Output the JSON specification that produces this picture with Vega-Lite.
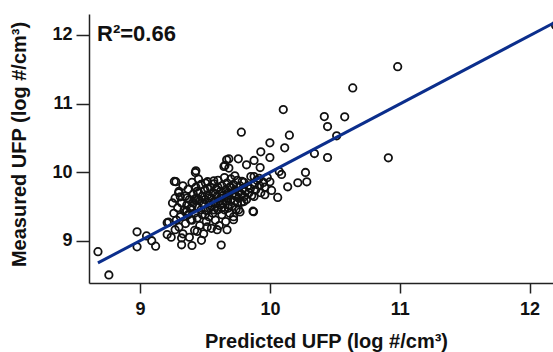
{
  "$schema": "https://vega.github.io/schema/vega-lite/v6.json",
  "width": 464,
  "height": 269,
  "autosize": {"type": "none"},
  "padding": {"left": 89, "top": 14, "right": 0, "bottom": 69},
  "background": "white",
  "config": {
    "view": {"stroke": null},
    "font": "Liberation Sans",
    "axis": {
      "grid": false,
      "domainColor": "#222222",
      "domainWidth": 1.5,
      "tickColor": "#222222",
      "tickWidth": 1.5,
      "labelFont": "Liberation Sans",
      "labelFontWeight": "bold",
      "labelFontSize": 18,
      "labelColor": "#111111",
      "titleFont": "Liberation Sans",
      "titleFontWeight": "bold",
      "titleFontSize": 20,
      "titleColor": "#111111"
    }
  },
  "datasets": {
    "points": [
      {"p": 8.676, "m": 8.84}, {"p": 8.76, "m": 8.5}, {"p": 8.977, "m": 9.13}, {"p": 8.977, "m": 8.91},
      {"p": 9.05, "m": 9.07}, {"p": 9.09, "m": 9.0}, {"p": 9.12, "m": 8.92}, {"p": 9.209, "m": 9.262},
      {"p": 9.209, "m": 9.09}, {"p": 9.22, "m": 9.27}, {"p": 9.24, "m": 9.05}, {"p": 9.27, "m": 9.16},
      {"p": 9.32, "m": 8.94}, {"p": 9.40, "m": 8.93}, {"p": 9.473, "m": 9.005}, {"p": 9.625, "m": 8.937},
      {"p": 9.87, "m": 9.43}, {"p": 9.426, "m": 9.995}, {"p": 9.43, "m": 10.02}, {"p": 9.276, "m": 9.86},
      {"p": 9.297, "m": 9.70}, {"p": 9.31, "m": 9.64}, {"p": 9.36, "m": 9.43}, {"p": 9.39, "m": 9.306},
      {"p": 9.44, "m": 9.136}, {"p": 9.32, "m": 9.04}, {"p": 9.517, "m": 9.2}, {"p": 9.594, "m": 9.16},
      {"p": 9.67, "m": 9.16}, {"p": 9.72, "m": 9.306}, {"p": 9.68, "m": 9.476}, {"p": 9.76, "m": 9.45},
      {"p": 9.80, "m": 9.57}, {"p": 9.264, "m": 9.864}, {"p": 9.568, "m": 9.874}, {"p": 9.504, "m": 9.84},
      {"p": 9.667, "m": 10.18}, {"p": 9.646, "m": 10.082}, {"p": 9.654, "m": 10.097}, {"p": 9.684, "m": 10.194},
      {"p": 9.684, "m": 10.059}, {"p": 9.73, "m": 9.947}, {"p": 9.757, "m": 10.194}, {"p": 9.78, "m": 10.583},
      {"p": 9.786, "m": 9.864}, {"p": 9.82, "m": 10.107}, {"p": 9.853, "m": 9.936}, {"p": 9.874, "m": 9.422},
      {"p": 9.878, "m": 10.17}, {"p": 9.878, "m": 9.645}, {"p": 9.878, "m": 9.936}, {"p": 9.917, "m": 9.91},
      {"p": 9.925, "m": 10.067}, {"p": 9.93, "m": 10.296}, {"p": 9.961, "m": 9.67}, {"p": 10.0, "m": 10.427},
      {"p": 10.0, "m": 10.213}, {"p": 10.0, "m": 9.859}, {"p": 10.013, "m": 9.733}, {"p": 10.06, "m": 9.631},
      {"p": 10.072, "m": 10.01}, {"p": 10.09, "m": 9.966}, {"p": 10.103, "m": 10.912}, {"p": 10.114, "m": 10.354},
      {"p": 10.137, "m": 9.786}, {"p": 10.15, "m": 10.539}, {"p": 10.215, "m": 9.845}, {"p": 10.274, "m": 9.995},
      {"p": 10.284, "m": 9.859}, {"p": 10.343, "m": 10.271}, {"p": 10.419, "m": 10.81}, {"p": 10.444, "m": 10.665},
      {"p": 10.444, "m": 10.213}, {"p": 10.514, "m": 10.529}, {"p": 10.576, "m": 10.806}, {"p": 10.638, "m": 11.228},
      {"p": 10.912, "m": 10.209}, {"p": 10.984, "m": 11.538}, {"p": 12.2, "m": 12.14},
      {"p": 9.25, "m": 9.55}, {"p": 9.26, "m": 9.40}, {"p": 9.27, "m": 9.62}, {"p": 9.28, "m": 9.30},
      {"p": 9.29, "m": 9.48}, {"p": 9.30, "m": 9.72}, {"p": 9.30, "m": 9.20}, {"p": 9.31, "m": 9.35},
      {"p": 9.32, "m": 9.55}, {"p": 9.33, "m": 9.80}, {"p": 9.33, "m": 9.10}, {"p": 9.34, "m": 9.45},
      {"p": 9.35, "m": 9.65}, {"p": 9.35, "m": 9.25}, {"p": 9.36, "m": 9.52}, {"p": 9.37, "m": 9.75},
      {"p": 9.37, "m": 9.38}, {"p": 9.38, "m": 9.60}, {"p": 9.38, "m": 9.05}, {"p": 9.39, "m": 9.47},
      {"p": 9.40, "m": 9.85}, {"p": 9.40, "m": 9.30}, {"p": 9.41, "m": 9.68}, {"p": 9.41, "m": 9.55},
      {"p": 9.42, "m": 9.40}, {"p": 9.42, "m": 9.15}, {"p": 9.43, "m": 9.78}, {"p": 9.43, "m": 9.62},
      {"p": 9.44, "m": 9.50}, {"p": 9.44, "m": 9.33}, {"p": 9.45, "m": 9.90}, {"p": 9.45, "m": 9.70},
      {"p": 9.46, "m": 9.58}, {"p": 9.46, "m": 9.22}, {"p": 9.47, "m": 9.45}, {"p": 9.47, "m": 9.82},
      {"p": 9.48, "m": 9.65}, {"p": 9.48, "m": 9.38}, {"p": 9.49, "m": 9.53}, {"p": 9.49, "m": 9.10},
      {"p": 9.50, "m": 9.74}, {"p": 9.50, "m": 9.60}, {"p": 9.51, "m": 9.44}, {"p": 9.51, "m": 9.28},
      {"p": 9.52, "m": 9.86}, {"p": 9.52, "m": 9.67}, {"p": 9.53, "m": 9.55}, {"p": 9.53, "m": 9.35},
      {"p": 9.54, "m": 9.78}, {"p": 9.54, "m": 9.48}, {"p": 9.55, "m": 9.62}, {"p": 9.55, "m": 9.18},
      {"p": 9.56, "m": 9.70}, {"p": 9.56, "m": 9.40}, {"p": 9.57, "m": 9.83}, {"p": 9.57, "m": 9.57},
      {"p": 9.58, "m": 9.50}, {"p": 9.58, "m": 9.30}, {"p": 9.59, "m": 9.75}, {"p": 9.59, "m": 9.64},
      {"p": 9.60, "m": 9.45}, {"p": 9.60, "m": 9.88}, {"p": 9.61, "m": 9.58}, {"p": 9.61, "m": 9.22},
      {"p": 9.62, "m": 9.72}, {"p": 9.62, "m": 9.52}, {"p": 9.63, "m": 9.80}, {"p": 9.63, "m": 9.38},
      {"p": 9.64, "m": 9.66}, {"p": 9.64, "m": 9.55}, {"p": 9.65, "m": 9.92}, {"p": 9.65, "m": 9.45},
      {"p": 9.66, "m": 9.74}, {"p": 9.66, "m": 9.28}, {"p": 9.67, "m": 9.62}, {"p": 9.67, "m": 9.84},
      {"p": 9.68, "m": 9.52}, {"p": 9.68, "m": 9.70}, {"p": 9.69, "m": 9.40}, {"p": 9.69, "m": 9.78},
      {"p": 9.70, "m": 9.60}, {"p": 9.70, "m": 9.90}, {"p": 9.71, "m": 9.50}, {"p": 9.71, "m": 9.68},
      {"p": 9.72, "m": 9.82}, {"p": 9.72, "m": 9.35}, {"p": 9.73, "m": 9.58}, {"p": 9.73, "m": 9.74},
      {"p": 9.74, "m": 9.65}, {"p": 9.74, "m": 9.46}, {"p": 9.75, "m": 9.88}, {"p": 9.75, "m": 9.55},
      {"p": 9.76, "m": 9.72}, {"p": 9.76, "m": 9.62}, {"p": 9.77, "m": 9.80}, {"p": 9.77, "m": 9.42},
      {"p": 9.78, "m": 9.68}, {"p": 9.78, "m": 9.56}, {"p": 9.79, "m": 9.76}, {"p": 9.80, "m": 9.64},
      {"p": 9.80, "m": 9.85}, {"p": 9.81, "m": 9.72}, {"p": 9.82, "m": 9.60}, {"p": 9.83, "m": 9.80},
      {"p": 9.84, "m": 9.70}, {"p": 9.85, "m": 9.76}, {"p": 9.86, "m": 9.66}, {"p": 9.88, "m": 9.82},
      {"p": 9.89, "m": 9.74}, {"p": 9.90, "m": 9.88}, {"p": 9.92, "m": 9.80}, {"p": 9.93, "m": 9.70},
      {"p": 9.95, "m": 9.85}, {"p": 9.96, "m": 9.78}, {"p": 9.98, "m": 9.92},
      {"p": 9.36, "m": 9.62}, {"p": 9.44, "m": 9.72}, {"p": 9.52, "m": 9.76}, {"p": 9.58, "m": 9.68},
      {"p": 9.62, "m": 9.62}, {"p": 9.55, "m": 9.50}, {"p": 9.48, "m": 9.55}, {"p": 9.40, "m": 9.50},
      {"p": 9.66, "m": 9.58}, {"p": 9.70, "m": 9.78}, {"p": 9.50, "m": 9.38}, {"p": 9.57, "m": 9.45},
      {"p": 9.45, "m": 9.60}, {"p": 9.63, "m": 9.48}, {"p": 9.53, "m": 9.62}, {"p": 9.60, "m": 9.78},
      {"p": 9.67, "m": 9.66}, {"p": 9.42, "m": 9.60}, {"p": 9.73, "m": 9.66}, {"p": 9.35, "m": 9.42}
    ],
    "fit": [
      {"p": 8.676, "m": 8.676},
      {"p": 12.2, "m": 12.19}
    ],
    "label": [
      {"p": 8.669, "m": 11.91, "t": "R²=0.66"}
    ]
  },
  "layer": [
    {
      "data": {"name": "points"},
      "mark": {"type": "point", "filled": false, "stroke": "#111111", "strokeWidth": 1.8, "size": 55, "clip": true, "opacity": 1},
      "encoding": {
        "x": {
          "field": "p", "type": "quantitative",
          "scale": {"domain": [8.607, 12.18], "nice": false, "zero": false},
          "axis": {
            "title": "Predicted UFP (log #/cm³)",
            "values": [9, 10, 11, 12],
            "format": "d",
            "tickSize": 10,
            "labelPadding": 7,
            "titlePadding": 13,
            "titleX": 237
          }
        },
        "y": {
          "field": "m", "type": "quantitative",
          "scale": {"domain": [8.383, 12.306], "nice": false, "zero": false},
          "axis": {
            "title": "Measured UFP (log #/cm³)",
            "values": [9, 10, 11, 12],
            "format": "d",
            "tickSize": 13,
            "labelPadding": 4,
            "titleX": -64,
            "titleY": 130,
            "titleBaseline": "alphabetic",
            "titleAlign": "center"
          }
        }
      }
    },
    {
      "data": {"name": "fit"},
      "mark": {"type": "line", "color": "#0b2e8c", "strokeWidth": 3, "clip": true},
      "encoding": {
        "x": {"field": "p", "type": "quantitative"},
        "y": {"field": "m", "type": "quantitative"}
      }
    },
    {
      "data": {"name": "label"},
      "mark": {"type": "text", "align": "left", "baseline": "alphabetic", "font": "Liberation Sans", "fontWeight": "bold", "fontSize": 22, "color": "#111111"},
      "encoding": {
        "x": {"field": "p", "type": "quantitative"},
        "y": {"field": "m", "type": "quantitative"},
        "text": {"field": "t"}
      }
    },
    {
      "mark": {"type": "rule", "color": "#222222", "strokeWidth": 1.5},
      "encoding": {
        "y": {"datum": 12.306}
      }
    }
  ]
}
